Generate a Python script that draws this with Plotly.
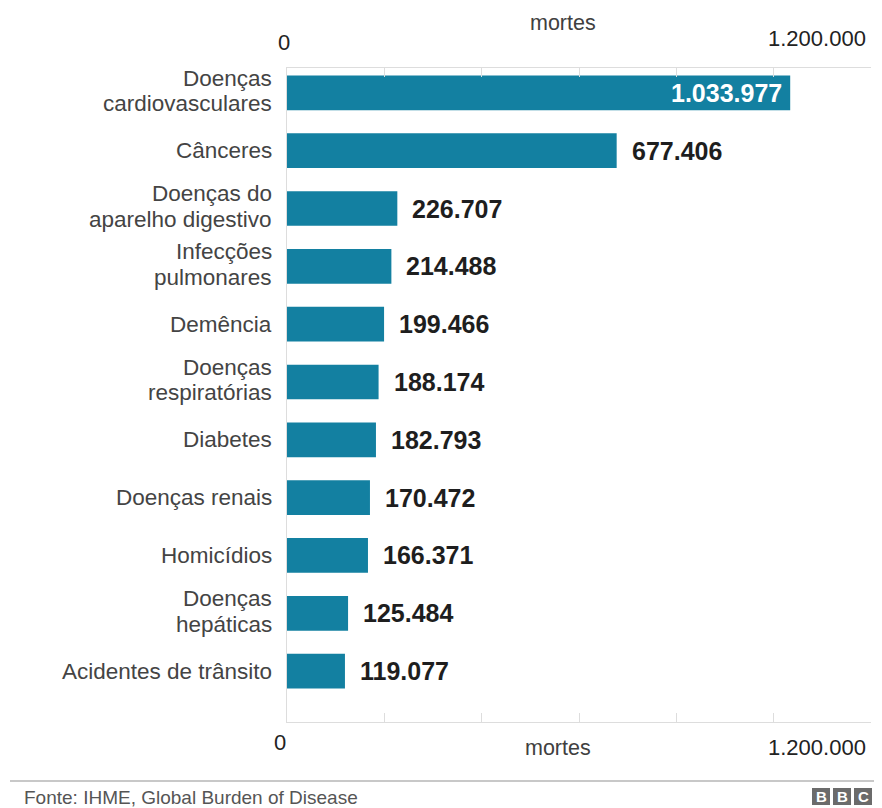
import plotly.graph_objects as go

categories = [
    "Doenças<br>cardiovasculares",
    "Cânceres",
    "Doenças do<br>aparelho digestivo",
    "Infecções<br>pulmonares",
    "Demência",
    "Doenças<br>respiratórias",
    "Diabetes",
    "Doenças renais",
    "Homicídios",
    "Doenças<br>hepáticas",
    "Acidentes de trânsito",
]
deaths = [1033977, 677406, 226707, 214488, 199466, 188174, 182793, 170472, 166371, 125484, 119077]
axis_max = 1200000
axis_label = "mortes"
source = "Fonte: IHME, Global Burden of Disease"

O = 8  # page body margin offset
W, H = 882 - O, 808 - O
L, R, T, B = 287 - O, 11, 68 - O, 86
PW = W - L - R
PH = H - T - B

def px(x):
    return (x - O - L) / PW

def py(y):
    return (H - B - (y - O)) / PH

def fmt(v):
    return f"{v:,}".replace(",", ".")

BAR = "#1380A1"
FONT = "Liberation Sans, Arial, sans-serif"

fig = go.Figure()
fig.add_trace(go.Bar(
    x=deaths, y=categories, orientation="h",
    marker=dict(color=BAR, line=dict(width=0)),
    width=0.6, hoverinfo="skip",
))
fig.add_trace(go.Scatter(x=[0, axis_max], y=[categories[0], categories[0]], xaxis="x2",
                         mode="markers", marker=dict(opacity=0), hoverinfo="skip", showlegend=False))

annotations = []
cat_font = dict(family=FONT, size=22.5, color="#444444")
LINE = 25.5
for i, (c, v) in enumerate(zip(categories, deaths)):
    lines = c.split("<br>")
    n = len(lines)
    for k, ln in enumerate(lines):
        shift = ((n - 1) / 2 - k) * LINE + (2 if n > 1 else 0)
        annotations.append(dict(x=px(274), y=c, xref="paper", yref="y", text=ln,
                                showarrow=False, xanchor="right", yanchor="middle", yshift=shift,
                                font=cat_font))
    if i == 0:
        annotations.append(dict(x=v, y=c, xref="x", yref="y", text=f"<b>{fmt(v)}</b>",
                                showarrow=False, xanchor="right", xshift=-6, yshift=0,
                                font=dict(family=FONT, size=25, color="white")))
    else:
        annotations.append(dict(x=v, y=c, xref="x", yref="y", text=f"<b>{fmt(v)}</b>",
                                showarrow=False, xanchor="left", xshift=13, yshift=0,
                                font=dict(family=FONT, size=25, color="#1e1e1e")))

tick_font = dict(family=FONT, size=22, color="#222222")
lab_font = dict(family=FONT, size=21.5, color="#404040")
annotations += [
    dict(x=0, y=py(42), xref="x", yref="paper", text="0", showarrow=False, xanchor="center", yanchor="middle", font=tick_font, xshift=-3),
    dict(x=axis_max, y=py(38), xref="x", yref="paper", text=fmt(axis_max), showarrow=False, xanchor="right", yanchor="middle", font=tick_font, xshift=-3),
    dict(x=px(563), y=py(23), xref="paper", yref="paper", text=axis_label, showarrow=False, xanchor="center", yanchor="middle", font=lab_font),
    dict(x=0, y=py(742), xref="x", yref="paper", text="0", showarrow=False, xanchor="center", yanchor="middle", font=tick_font, xshift=-7),
    dict(x=px(558), y=py(748), xref="paper", yref="paper", text=axis_label, showarrow=False, xanchor="center", yanchor="middle", font=lab_font),
    dict(x=axis_max, y=py(748), xref="x", yref="paper", text=fmt(axis_max), showarrow=False, xanchor="right", yanchor="middle", font=tick_font, xshift=-3),
    dict(x=px(22), y=py(797), xref="paper", yref="paper", text=source, showarrow=False, xanchor="left", yanchor="middle",
         font=dict(family=FONT, size=19, color="#555555")),
]

shapes = [
    dict(type="line", xref="paper", yref="paper", x0=px(10), x1=px(882), y0=py(781), y1=py(781),
         line=dict(color="#c8c8c8", width=2)),
]
for j, letter in enumerate("BBC"):
    x0 = 812 + j * 21
    shapes.append(dict(type="rect", xref="paper", yref="paper", x0=px(x0), x1=px(x0 + 18),
                       y0=py(805), y1=py(788), fillcolor="#6b6b6b", line=dict(width=0)))
    annotations.append(dict(x=px(x0 + 9), y=py(796.5), xref="paper", yref="paper", text=f"<b>{letter}</b>",
                            showarrow=False, xanchor="center", yanchor="middle",
                            font=dict(family=FONT, size=15, color="white")))

axis_common = dict(range=[0, axis_max], dtick=200000, tick0=0, showgrid=False, zeroline=False,
                   showline=True, linecolor="#dddddd", linewidth=1, ticks="inside", ticklen=9,
                   tickcolor="#dddddd", showticklabels=False, fixedrange=True)

fig.update_layout(
    width=W, height=H,
    margin=dict(l=L, r=R, t=T, b=B, pad=0),
    paper_bgcolor="white", plot_bgcolor="white",
    showlegend=False,
    bargap=0.4,
    xaxis=dict(side="bottom", **axis_common),
    xaxis2=dict(side="top", overlaying="x", anchor="y", **axis_common),
    yaxis=dict(categoryorder="array", categoryarray=categories, range=[10.88, -0.43],
               showgrid=False, zeroline=False, showline=True, linecolor="#dddddd", linewidth=1,
               ticks="", showticklabels=False, fixedrange=True),
    annotations=annotations,
    shapes=shapes,
    font=dict(family=FONT),
)

fig.write_html("out.html")
